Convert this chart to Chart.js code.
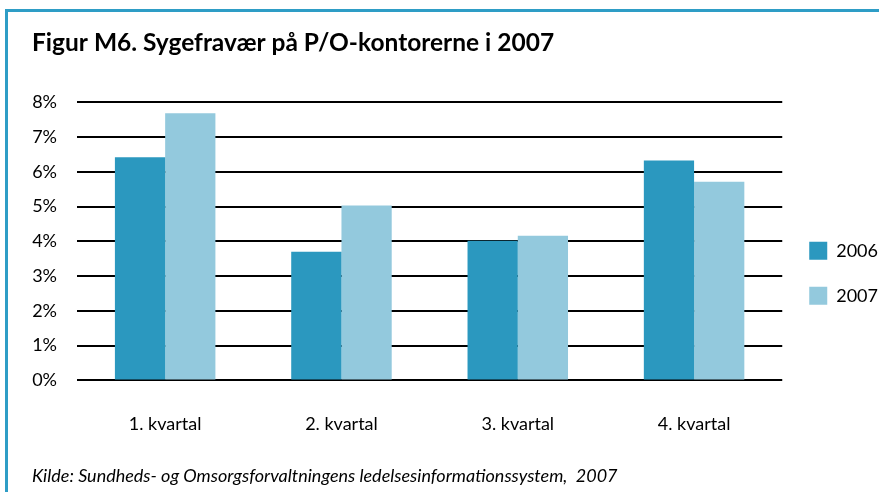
<!DOCTYPE html>
<html lang="da">
  <head>
    <meta charset="UTF-8" />
    <title>Figur M6</title>
    <script src="https://cdn.jsdelivr.net/npm/chart.js"></script>
    <style>
      html, body { margin: 0; padding: 0; background: #fff; }
      .frame {
        position: absolute; left: 5px; top: 9px; width: 880px; height: 490px;
        border-top: 3px solid #2e9dc6; border-left: 3px solid #2e9dc6;
      }
      .chart-box { position: absolute; left: 0; top: 0; width: 879px; height: 492px; }
    </style>
  </head>
  <body>
    <div class="frame"></div>
    <div class="chart-box">
      <canvas id="myChart"></canvas>
    </div>
    <script>
      const labelList = ["1. kvartal", "2. kvartal", "3. kvartal", "4. kvartal"];
      const values2006 = [6.42, 3.7, 4.02, 6.33];
      const values2007 = [7.69, 5.03, 4.16, 5.72];
      const yTicks = [0, 1, 2, 3, 4, 5, 6, 7, 8];

      Chart.defaults.font.family = "Lato, 'Open Sans', sans-serif";
      Chart.defaults.color = "#000";

      const ctx = document.getElementById("myChart");
      const myChart = new Chart(ctx, {
        type: "bar",
        data: {
          labels: labelList,
          datasets: [
            { label: "2006", data: values2006, backgroundColor: "#2b98bf" },
            { label: "2007", data: values2007, backgroundColor: "#93c9dd" },
          ],
        },
        options: {
          responsive: true,
          maintainAspectRatio: false,
          animation: false,
          datasets: { bar: { categoryPercentage: 0.57, barPercentage: 1.0 } },
          layout: { padding: { left: 32, right: -9, top: 0, bottom: 0 } },
          scales: {
            x: {
              grid: { display: false, drawTicks: false },
              border: { display: false },
              ticks: { padding: 33, font: { size: 18 } },
              afterFit: (axis) => {
                axis.height = 56;
              },
            },
            y: {
              min: 0,
              max: 8,
              afterBuildTicks: (axis) => {
                axis.ticks = yTicks.map((v) => ({ value: v }));
              },
              grid: { color: "#000", lineWidth: 2, drawTicks: false },
              border: { display: false },
              ticks: {
                padding: 20,
                font: { size: 18 },
                callback: (v) => v + "%",
              },
              afterFit: (axis) => {
                axis.width = 45;
              },
            },
          },
          plugins: {
            tooltip: { enabled: false },
            title: {
              display: true,
              text: "Figur M6. Sygefravær på P/O-kontorerne i 2007",
              align: "start",
              font: { size: 24.5, weight: "bold" },
              padding: { top: 28, bottom: 45 },
            },
            subtitle: {
              display: true,
              position: "bottom",
              text: "Kilde: Sundheds- og Omsorgsforvaltningens ledelsesinformationssystem,  2007",
              align: "start",
              font: { size: 18, style: "italic" },
              padding: { top: 29, bottom: 5 },
            },
            legend: {
              position: "right",
              title: { display: true, text: " ", padding: { top: 20, bottom: 20 } },
              labels: {
                boxWidth: 18,
                boxHeight: 18,
                padding: 27,
                font: { size: 18 },
              },
            },
          },
        },
      });
    </script>
  </body>
</html>
